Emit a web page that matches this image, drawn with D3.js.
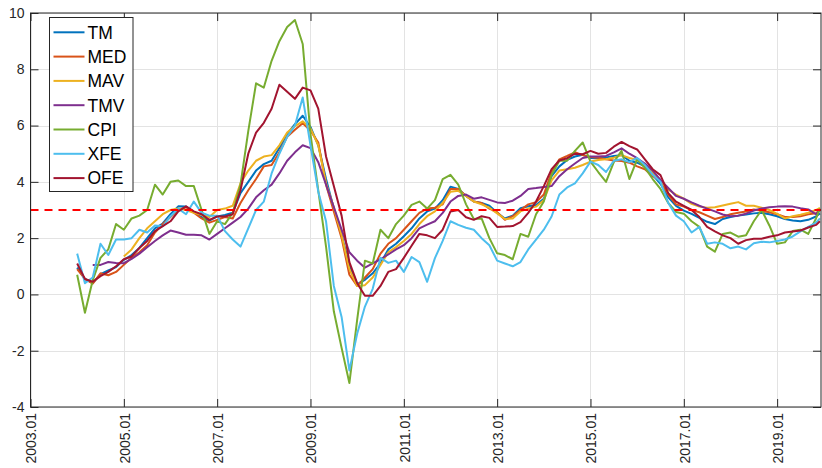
<!DOCTYPE html>
<html>
<head>
<meta charset="utf-8">
<script src="https://cdn.jsdelivr.net/npm/d3@7"></script>
<style>
  html, body { margin: 0; padding: 0; background: #fff; }
  svg { display: block; font-family: "Liberation Sans", Arial, Helvetica, sans-serif; }
</style>
</head>
<body>
<svg id="chart" width="822" height="468"></svg>
<script>
// Inflation measures (%, year over year), sampled every second month
// from 2004.01 to 2019.11, plus 2019.12.
const startYear = 2004;
const nPoints = 97;

const seriesNames = ["TM", "MED", "MAV", "TMV", "CPI", "XFE", "OFE"];
const seriesColors = ["#0072BD", "#D95319", "#EDB120", "#7E2F8E", "#77AC30", "#4DBEEE", "#A2142F"];

const TM = [0.95,0.55,0.4,0.72,0.85,0.97, 1.23,1.4,1.65,2.0,2.35,2.52, 2.85,3.13,3.12,2.93,2.75,2.62,
  2.77,2.82,2.9,3.6,4.0,4.4, 4.63,4.75,5.2,5.7,6.05,6.35, 5.95,5.3,4.1,3.05,2.1,1.05,
  0.37,0.52,0.75,1.1,1.6,1.8, 2.07,2.35,2.7,2.95,3.05,3.35, 3.83,3.75,3.5,3.3,3.25,3.15,
  2.9,2.7,2.8,3.06,3.13,3.18, 3.4,4.2,4.55,4.78,4.9,4.96, 4.85,4.84,4.87,4.92,4.95,4.75,
  4.68,4.55,4.25,3.93,3.45,3.15, 2.98,2.86,2.72,2.58,2.5,2.68, 2.75,2.8,2.84,2.88,2.9,2.85,
  2.78,2.68,2.63,2.6,2.65,2.77, 2.88];

const MED = [0.9,0.55,0.38,0.75,0.68,0.8, 1.05,1.3,1.5,1.75,2.2,2.5, 2.75,3.0,3.1,2.9,2.7,2.55,
  2.65,2.75,2.7,3.25,3.7,4.1, 4.55,4.6,5.05,5.6,5.85,6.08, 5.82,5.4,3.9,2.95,2.0,0.7,
  0.3,0.6,0.9,1.45,1.8,2.0, 2.3,2.6,2.9,3.05,3.08,3.2, 3.75,3.75,3.5,3.3,3.25,3.05,
  2.92,2.65,2.78,3.0,3.2,3.28, 3.55,4.35,4.8,4.92,5.05,4.95, 4.88,4.86,4.8,4.76,4.74,4.68,
  4.55,4.45,4.2,4.05,3.55,3.2, 3.12,3.0,2.92,2.8,2.68,2.75, 2.85,2.9,2.95,3.02,2.97,2.92,
  2.85,2.75,2.75,2.78,2.85,2.88, 3.0];

const MAV = [null,null,null,null,null,null, 1.35,1.6,2.0,2.35,2.6,2.85, 3.0,3.05,3.0,2.9,2.83,2.75,
  3.0,3.05,3.15,3.95,4.4,4.75, 4.9,4.95,5.3,5.75,5.98,6.15, 5.9,5.3,3.95,3.1,2.1,0.9,
  0.3,0.33,0.6,1.05,1.5,1.68, 1.9,2.15,2.5,2.78,2.95,3.25, 3.65,3.68,3.5,3.3,3.2,3.08,
  2.88,2.68,2.7,2.95,3.05,3.12, 3.35,4.05,4.4,4.45,4.5,4.6, 4.72,4.78,4.8,4.86,4.95,4.85,
  4.78,4.6,4.35,4.05,3.72,3.55, 3.4,3.22,3.12,3.08,3.1,3.16, 3.22,3.28,3.15,3.15,3.08,3.0,
  2.86,2.7,2.78,2.83,2.9,3.0, 3.08];

const TMV = [null,null,1.05,1.05,1.15,1.12, 1.11,1.26,1.45,1.68,1.9,2.1, 2.27,2.2,2.12,2.12,2.1,1.95,
  2.15,2.35,2.55,2.75,3.05,3.45, 3.7,3.9,4.3,4.75,5.05,5.3, 5.2,4.7,3.9,3.1,2.3,1.5,
  1.2,0.95,1.1,1.25,1.42,1.6, 1.75,2.0,2.35,2.48,2.6,2.9, 3.3,3.5,3.55,3.4,3.45,3.36,
  3.27,3.25,3.33,3.5,3.75,3.78, 3.82,3.85,4.2,4.45,4.65,4.85, 4.9,4.9,4.92,5.05,5.19,5.0,
  4.84,4.65,4.4,4.07,3.78,3.5, 3.4,3.27,3.15,3.05,2.95,2.84, 2.78,2.8,2.87,2.98,3.05,3.1,
  3.12,3.13,3.12,3.06,3.02,2.85, 3.0];

const CPI = [0.7,-0.65,0.5,1.3,1.6,2.5, 2.3,2.7,2.8,3.0,3.9,3.55, 4.0,4.05,3.85,3.85,3.0,2.15,
  2.6,2.5,2.9,3.9,5.8,7.5, 7.35,8.3,9.0,9.5,9.75,8.9, 5.7,3.7,1.7,-0.6,-1.9,-3.15,
  -0.9,1.2,1.1,2.3,2.0,2.5, 2.8,3.18,3.3,3.05,3.35,4.1, 4.25,3.9,3.2,2.68,2.7,2.0,
  1.46,1.4,1.25,2.15,2.05,2.85, 3.3,4.25,4.75,4.75,5.1,5.4, 4.72,4.35,4.0,4.7,5.1,4.1,
  4.8,4.5,4.1,3.75,3.25,2.93, 2.87,2.6,2.4,1.7,1.52,2.15, 2.2,2.05,2.1,2.6,3.0,2.45,
  1.8,1.85,2.25,2.3,2.15,2.7, 3.05];

const XFE = [1.45,0.4,0.6,1.8,1.4,1.95, 1.95,2.0,2.3,2.2,2.45,2.42, 2.78,3.05,2.85,3.3,2.9,2.8,
  2.8,2.25,1.95,1.7,2.35,3.0, 3.3,4.3,5.0,5.6,6.0,7.0, 5.3,3.65,2.6,0.3,-0.8,-2.7,
  -1.4,-0.43,0.2,1.3,1.12,1.2, 0.8,1.33,1.15,0.45,1.29,1.9, 2.6,2.47,2.37,2.3,2.0,1.75,
  1.2,1.1,1.0,1.15,1.6,1.95, 2.3,2.77,3.55,3.8,3.95,4.3, 4.72,4.6,4.35,4.75,4.8,4.7,
  4.85,4.6,4.25,4.0,3.25,2.8, 2.6,2.2,2.4,1.8,1.85,1.8, 1.64,1.7,1.6,1.82,1.87,1.85,
  1.9,1.95,2.06,2.24,2.4,2.55, 2.7];

const OFE = [1.1,0.55,0.45,0.65,0.8,1.0, 1.25,1.35,1.65,1.9,2.25,2.43, 2.6,2.95,3.13,2.95,2.85,2.65,
  2.77,2.77,2.85,3.7,5.0,5.75, 6.1,6.6,7.45,7.2,6.95,7.35, 7.25,6.6,4.9,3.85,2.8,1.15,
  0.4,-0.05,-0.05,0.3,0.8,0.9, 1.3,1.73,2.15,2.1,2.0,2.3, 2.95,3.0,2.74,2.65,2.78,2.72,
  2.4,2.41,2.43,2.57,2.9,3.3, 3.85,4.45,4.76,4.84,5.0,4.98, 5.1,5.0,5.03,5.25,5.42,5.27,
  5.15,4.8,4.45,4.24,3.6,3.3, 3.15,3.0,2.75,2.4,2.24,2.1, 2.0,1.8,1.93,1.98,1.98,2.05,
  2.1,2.2,2.24,2.27,2.38,2.47, 2.6];

const seriesValues = [TM, MED, MAV, TMV, CPI, XFE, OFE];

const targetRate = 3;
const xTickYears = [2003, 2005, 2007, 2009, 2011, 2013, 2015, 2017, 2019];
const xTickLabels = ["2003.01", "2005.01", "2007.01", "2009.01", "2011.01", "2013.01", "2015.01", "2017.01", "2019.01"];
const yTickValues = [-4, -2, 0, 2, 4, 6, 8, 10];

// Time of each observation as a fractional year.
const times = d3.range(nPoints).map(i =>
  i < nPoints - 1 ? startYear + (2 * i) / 12 : 2019 + 11 / 12);

const svg = d3.select("#chart");
const plotLeft = 30.5, plotRight = 821, plotTop = 13, plotBottom = 407;
const ink = "#262626";

const x = d3.scaleLinear().domain([2003, 2019.94]).range([plotLeft, plotRight]);
const y = d3.scaleLinear().domain([-4, 10]).range([plotBottom, plotTop]);

// Grid
const grid = svg.append("g").attr("stroke", "#e3e3e3").attr("stroke-width", 1);
grid.selectAll("line.v").data(xTickYears).join("line").attr("class", "v")
  .attr("x1", d => Math.round(x(d)) + 0.5).attr("x2", d => Math.round(x(d)) + 0.5)
  .attr("y1", plotTop).attr("y2", plotBottom);
grid.selectAll("line.h").data(yTickValues).join("line").attr("class", "h")
  .attr("y1", d => Math.round(y(d)) + 0.5).attr("y2", d => Math.round(y(d)) + 0.5)
  .attr("x1", plotLeft).attr("x2", plotRight);

// Series
svg.append("clipPath").attr("id", "plot-clip")
  .append("rect").attr("x", plotLeft).attr("y", plotTop - 1)
  .attr("width", plotRight - plotLeft).attr("height", plotBottom - plotTop + 2);

const line = d3.line()
  .defined(d => d[1] != null)
  .x(d => x(d[0]))
  .y(d => y(d[1]));

const lines = svg.append("g").attr("clip-path", "url(#plot-clip)");
seriesValues.forEach((vals, k) => {
  lines.append("path")
    .datum(vals.map((v, i) => [times[i], v]))
    .attr("fill", "none")
    .attr("stroke", seriesColors[k])
    .attr("stroke-width", 2)
    .attr("stroke-linejoin", "round")
    .attr("d", line);
});

// Reference rate
svg.append("line")
  .attr("x1", plotLeft).attr("x2", plotRight)
  .attr("y1", y(targetRate)).attr("y2", y(targetRate))
  .attr("stroke", "#ff0000").attr("stroke-width", 2)
  .attr("stroke-dasharray", "8,6");

// Axes with inward ticks on all four sides
const tickLen = 8;
const axisB = d3.axisBottom(x).tickValues(xTickYears).tickSize(-tickLen).tickFormat("");
const axisT = d3.axisTop(x).tickValues(xTickYears).tickSize(-tickLen).tickFormat("");
const axisL = d3.axisLeft(y).tickValues(yTickValues).tickSize(-tickLen).tickFormat("");
const axisR = d3.axisRight(y).tickValues(yTickValues).tickSize(-tickLen).tickFormat("");

function styleAxis(g) {
  g.select(".domain").remove();
  g.selectAll("line").attr("stroke", ink);
}
svg.append("g").attr("transform", `translate(0,${plotBottom})`).call(axisB).call(styleAxis);
svg.append("g").attr("transform", `translate(0,${plotTop})`).call(axisT).call(styleAxis);
svg.append("g").attr("transform", `translate(${plotLeft},0)`).call(axisL).call(styleAxis);
svg.append("g").attr("transform", `translate(${plotRight},0)`).call(axisR).call(styleAxis);

svg.append("rect")
  .attr("x", plotLeft).attr("y", plotTop)
  .attr("width", plotRight - plotLeft).attr("height", plotBottom - plotTop)
  .attr("fill", "none").attr("stroke", ink).attr("stroke-width", 1);

// Tick labels
svg.append("g").selectAll("text").data(yTickValues).join("text")
  .attr("x", plotLeft - 6).attr("y", d => y(d)).attr("dy", "0.35em")
  .attr("text-anchor", "end").attr("font-size", 14).attr("fill", ink)
  .text(d => d);

svg.append("g").selectAll("text").data(xTickYears).join("text")
  .attr("transform", d => `translate(${x(d) + 1},${plotBottom + 6}) rotate(-90)`)
  .attr("dy", "0.35em")
  .attr("text-anchor", "end").attr("font-size", 14).attr("fill", ink)
  .text((d, i) => xTickLabels[i]);

// Legend
const legend = svg.append("g");
legend.append("rect")
  .attr("x", 49.5).attr("y", 17.5).attr("width", 83.5).attr("height", 174)
  .attr("fill", "#fff").attr("stroke", ink).attr("stroke-width", 1);
seriesNames.forEach((name, k) => {
  const ly = 32.3 + k * 24.3;
  legend.append("line")
    .attr("x1", 53.5).attr("x2", 84.5).attr("y1", ly).attr("y2", ly)
    .attr("stroke", seriesColors[k]).attr("stroke-width", 2);
  legend.append("text")
    .attr("x", 87.5).attr("y", ly).attr("dy", "0.36em")
    .attr("font-size", 17.5).attr("fill", "#000")
    .text(name);
});
</script>
</body>
</html>
